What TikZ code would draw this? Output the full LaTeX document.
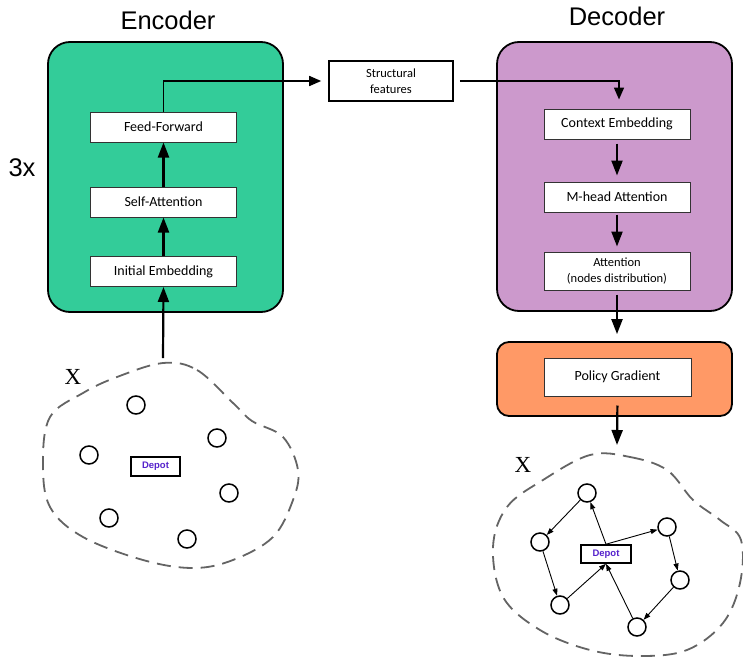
\documentclass[tikz,border=0pt]{standalone}
\usepackage{fontspec}
\setmainfont{Carlito}
\newfontfamily\arialfont{Liberation Sans}
\newfontfamily\timesfont{Liberation Serif}
\usepackage{tikz}
\usetikzlibrary{
  arrows.meta,
  positioning
}
\definecolor{encGreen}{RGB}{51,204,153}
\definecolor{decPurple}{RGB}{204,153,204}
\definecolor{pgOrange}{RGB}{255,153,102}
\definecolor{depotBlue}{RGB}{85,34,204}
\definecolor{cloudGray}{RGB}{100,100,100}
\tikzset{
  blockBox/.style={
    rectangle,
    rounded corners=22pt,
    draw=black,
    line width=1.8pt,
    inner sep=0pt,
    minimum width=235pt
  },
  layerBox/.style={
    rectangle,
    draw=black!80,
    fill=white,
    line width=1pt,
    minimum width=146pt,
    minimum height=30pt,
    inner sep=2pt,
    align=center,
    font=\fontsize{14}{16}\selectfont
  },
  featBox/.style={
    rectangle,
    draw=black,
    fill=white,
    line width=1.6pt,
    minimum width=124pt,
    minimum height=40pt,
    inner sep=2pt,
    align=center,
    font=\fontsize{12.5}{15.5}\selectfont
  },
  titleText/.style={
    font=\arialfont\fontsize{25.5}{27}\selectfont
  },
  setLabel/.style={
    font=\timesfont\fontsize{23}{25}\selectfont
  },
  cityNode/.style={
    circle,
    draw=black,
    line width=1.5pt,
    minimum size=18pt,
    inner sep=0pt
  },
  depotBox/.style={
    rectangle,
    draw=black,
    fill=white,
    line width=1.6pt,
    minimum width=49pt,
    minimum height=19pt,
    inner sep=0pt,
    text=depotBlue,
    font=\arialfont\bfseries\fontsize{9.5}{10}\selectfont
  },
  cloudLine/.style={
    draw=cloudGray,
    line width=1.8pt,
    dash pattern=on 14pt off 8pt
  },
  flowArrow/.style={
    -{Triangle[length=15pt,width=11pt]},
    line width=2.2pt,
    draw=black
  },
  routeArrow/.style={
    -{Triangle[length=7pt,width=5pt]},
    line width=0.9pt,
    draw=black
  }
}
\begin{document}
\begin{tikzpicture}[x=1pt, y=-1pt]
  \useasboundingbox (0,0) rectangle (743,661);

  % encoder
  \node[titleText] (encTitle) at (168,20) {Encoder};
  \node[blockBox, fill=encGreen, minimum height=270pt]
    (encoder) at (165.5,177) {};
  \node[titleText] (repeatNum) at (22,168) {3x};
  \node[layerBox] (initEmb) at (163.5,271.5) {Initial Embedding};
  \node[layerBox] (selfAtt) at (163.5,202) {Self-Attention};
  \node[layerBox] (feedFwd) at (163.5,127) {Feed-Forward};

  \draw[flowArrow] (initEmb) -- (selfAtt);
  \draw[flowArrow] (selfAtt) -- (feedFwd);

  % structural features
  \node[featBox] (structFeat) at (391,81) {Structural\\features};

  % decoder
  \node[titleText] (decTitle) at (617,16) {Decoder};
  \node[blockBox, fill=decPurple, minimum height=269pt]
    (decoder) at (614.5,176.5) {};
  \node[layerBox] (ctxEmb) at (617,124) {Context Embedding};
  \node[layerBox] (mhAtt) at (617,197) {M-head Attention};
  \node[layerBox, minimum height=38pt, font=\fontsize{12.5}{15.5}\selectfont]
    (attDist) at (617,271) {Attention\\(nodes distribution)};

  \draw[flowArrow, shorten <=4pt, shorten >=6pt] (ctxEmb) -- (mhAtt);
  \draw[flowArrow, shorten <=2pt, shorten >=5pt] (mhAtt) -- (attDist);

  % policy gradient
  \node[blockBox, fill=pgOrange, rounded corners=12pt, minimum height=74pt]
    (policy) at (614.5,379) {};
  \node[layerBox, minimum width=147pt, minimum height=38pt]
    (polGrad) at (617.5,377) {Policy Gradient};

  \draw[flowArrow, shorten <=4pt, shorten >=7pt]
    (attDist.south) -- (attDist.south |- policy.north);

  % links between blocks
  \draw[line width=1.6pt, -{Triangle[length=12pt,width=10pt]}, shorten >=7pt]
    (feedFwd.north) |- (structFeat.west);
  \draw[line width=1.6pt, -{Triangle[length=12pt,width=10pt]},
    shorten <=6pt, shorten >=9pt]
    (structFeat.east) -| ([xshift=2pt]ctxEmb.north);

  % input set
  \node[setLabel] (setIn) at (73,377) {X};
  \draw[cloudLine] plot[smooth cycle, tension=0.6] coordinates {
    (163,363) (197,370) (233,403) (252,421) (283,437) (298,470)
    (293,500) (273,537) (233,560) (193,568) (143,560) (83,537)
    (50,507) (43,463) (50,417) (83,393) (117,377)};
  \coordinate (inTop) at (163,358);
  \draw[flowArrow] (inTop) -- (initEmb.south);

  \node[depotBox] (depotIn) at (155.5,466.5) {Depot};
  \node[cityNode] (a1) at (136,405) {};
  \node[cityNode] (a2) at (217,438) {};
  \node[cityNode] (a3) at (89,455) {};
  \node[cityNode] (a4) at (229,493) {};
  \node[cityNode] (a5) at (109,518) {};
  \node[cityNode] (a6) at (187,539) {};

  % output tours
  \coordinate (outTop) at (617,445);
  \draw[flowArrow, shorten <=9pt] (polGrad.south) -- (outTop);

  \node[setLabel] (setOut) at (523,465) {X};
  \draw[cloudLine] plot[smooth cycle, tension=0.6] coordinates {
    (590,455) (630,457) (667,470) (693,500) (720,520) (741,540)
    (740,583) (723,623) (687,650) (640,656) (590,650) (540,630)
    (503,597) (493,547) (507,507) (543,480)};

  \node[depotBox, minimum width=50pt, minimum height=18pt]
    (depotOut) at (606,554) {Depot};
  \node[cityNode] (b1) at (587,493) {};
  \node[cityNode] (b2) at (540,542) {};
  \node[cityNode] (b3) at (560,605) {};
  \node[cityNode] (b4) at (637,627) {};
  \node[cityNode] (b5) at (680,580) {};
  \node[cityNode] (b6) at (667,527) {};

  \draw[routeArrow] (depotOut.north) -- (b1);
  \draw[routeArrow] (b1) -- (b2);
  \draw[routeArrow] (b2) -- (b3);
  \draw[routeArrow] (b3) -- (depotOut.south);
  \draw[routeArrow] (depotOut.north) -- (b6);
  \draw[routeArrow] (b6) -- (b5);
  \draw[routeArrow] (b5) -- (b4);
  \draw[routeArrow] (b4) -- (depotOut.south);
\end{tikzpicture}
\end{document}
